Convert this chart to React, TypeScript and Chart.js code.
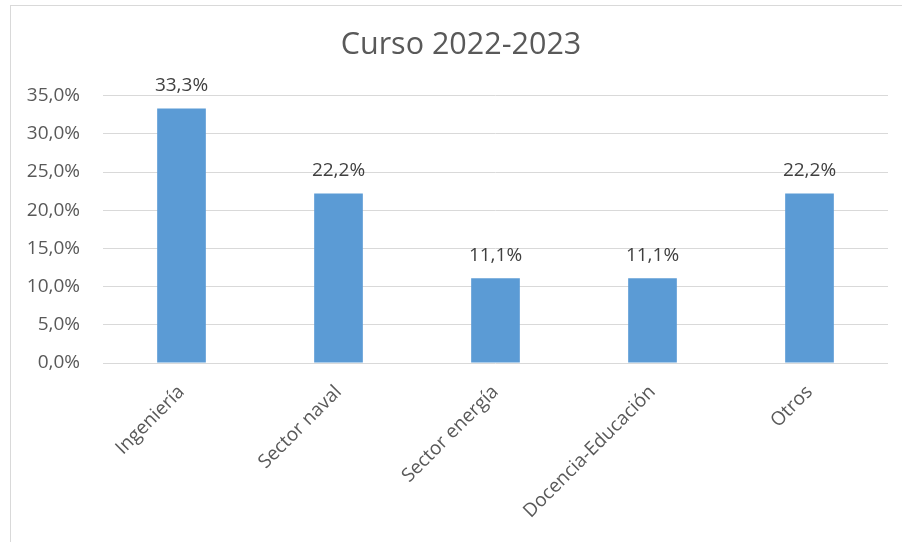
import React, { useEffect, useRef } from "react";
import { Chart, registerables } from "chart.js";

Chart.register(...registerables);

const categories = ["Ingeniería", "Sector naval", "Sector energía", "Docencia-Educación", "Otros"];
const values = [33.3, 22.2, 11.1, 11.1, 22.2];
const yTicks = [0, 5, 10, 15, 20, 25, 30, 35];
const titleText = "Curso 2022-2023";

const fmt = (v: number) => v.toFixed(1).replace(".", ",") + "%";

const valueLabels = {
  id: "valueLabels",
  afterDatasetsDraw(chart: any) {
    const ctx = chart.ctx;
    const meta = chart.getDatasetMeta(0);
    ctx.save();
    ctx.font = "500 19px 'Open Sans'";
    ctx.fillStyle = "#404040";
    ctx.textAlign = "center";
    ctx.textBaseline = "middle";
    meta.data.forEach((el: any, i: number) => {
      ctx.fillText(fmt(values[i]), el.x, el.y - 23);
    });
    ctx.restore();
  },
};

export default function App() {
  const ref = useRef<HTMLCanvasElement>(null);
  useEffect(() => {
    if (!ref.current) return;
    const chart = new Chart(ref.current, {
      type: "bar",
      data: {
        labels: categories,
        datasets: [
          {
            data: values,
            backgroundColor: "#5b9bd5",
            barPercentage: 0.31,
            categoryPercentage: 1,
          },
        ],
      },
      plugins: [valueLabels],
      options: {
        responsive: false,
        animation: false,
        layout: { padding: { left: 0, right: 0, top: 0, bottom: 0 } },
        plugins: {
          legend: { display: false },
          tooltip: { enabled: false },
          title: {
            display: true,
            text: titleText,
            color: "#595959",
            font: { family: "'Open Sans'", size: 30.5, weight: "normal" },
            padding: { top: 21, bottom: 32 },
          },
        },
        scales: {
          x: {
            grid: { display: false },
            border: { display: false },
            ticks: {
              color: "#595959",
              font: { family: "'Open Sans'", size: 19 },
              maxRotation: 45,
              minRotation: 45,
              padding: 10,
            },
            afterFit: (s: any) => {
              s.height = 179;
            },
          },
          y: {
            min: 0,
            max: 35,
            afterBuildTicks: (s: any) => {
              s.ticks = yTicks.map((v) => ({ value: v }));
            },
            grid: { color: "#d9d9d9", drawTicks: false, lineWidth: 1 },
            border: { display: false },
            ticks: {
              color: "#595959",
              font: { family: "'Open Sans'", size: 19 },
              padding: 23,
              callback: (v: any) => fmt(Number(v)),
            },
            afterFit: (s: any) => {
              s.width = 92;
            },
          },
          yR: {
            position: "right",
            display: true,
            grid: { display: false },
            border: { display: false },
            ticks: { display: false },
            afterFit: (s: any) => {
              s.width = 23;
            },
          },
        },
      },
    } as any);
    return () => chart.destroy();
  }, []);

  return (
    <div style={{ position: "fixed", left: 0, top: 0, width: 902, height: 542, overflow: "hidden", background: "#fff" }}>
      <div
        style={{
          position: "absolute",
          left: 10,
          top: 5,
          width: 900,
          height: 537,
          borderLeft: "1px solid #d9d9d9",
          borderTop: "1px solid #d9d9d9",
        }}
      >
        <canvas ref={ref} width={900} height={536} style={{ display: "block" }} />
      </div>
    </div>
  );
}
